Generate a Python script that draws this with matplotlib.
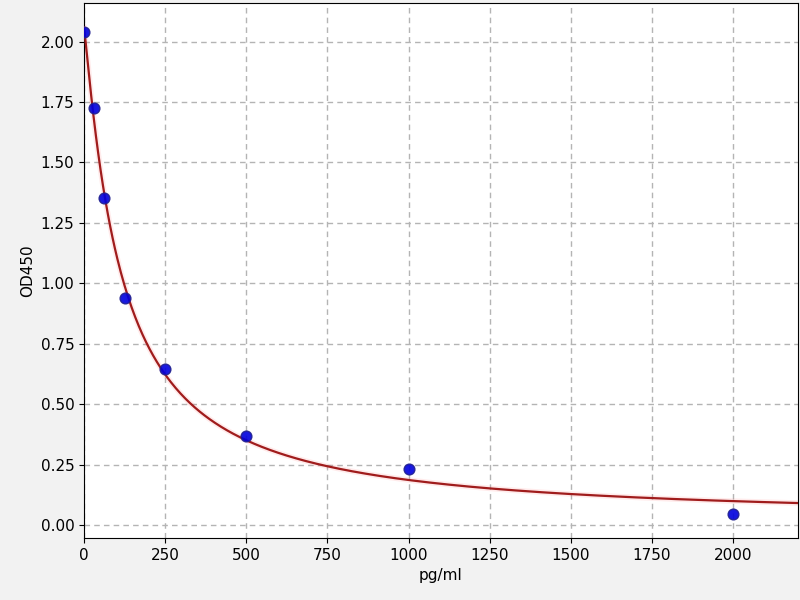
import numpy as np
import matplotlib.pyplot as plt

# standard concentrations (pg/ml) and measured OD450
conc = [0, 31.25, 62.5, 125, 250, 500, 1000, 2000]
od = [2.04, 1.725, 1.352, 0.94, 0.645, 0.368, 0.232, 0.046]
xticks = [0, 250, 500, 750, 1000, 1250, 1500, 1750, 2000]
yticks = [0.00, 0.25, 0.50, 0.75, 1.00, 1.25, 1.50, 1.75, 2.00]

x = np.array(conc, dtype=float)
y = np.array(od)


def fit_4pl(x, y):
    # grid over slope b and midpoint c, linear least squares for top/bottom
    best = None
    for b in np.linspace(0.5, 2.0, 151):
        for c in np.linspace(30, 600, 571):
            g = 1.0 / (1.0 + (x / c) ** b)
            A = np.column_stack([np.ones_like(g), g])
            coef, *_ = np.linalg.lstsq(A, y, rcond=None)
            err = np.sum((A @ coef - y) ** 2)
            if best is None or err < best[0]:
                best = (err, b, c, coef)
    _, b, c, (d, k) = best
    return lambda t: d + k / (1.0 + (t / c) ** b)


curve = fit_4pl(x, y)
xs = np.linspace(0, 2200, 600)

fig = plt.figure(figsize=(8, 6), dpi=100, facecolor='#f2f2f2')
ax = fig.add_axes([0.105, 0.103, 0.8925, 0.892])

ax.plot(xs, curve(xs), color='#ff6060', lw=4, alpha=0.12, zorder=2)
ax.plot(xs, curve(xs), color='#a01c1c', lw=1.6, zorder=3)
ax.scatter(conc, od, s=60, color='#0000dd', edgecolor='#202090', alpha=0.9, zorder=4)

ax.set_xlim(0, 2200)
ax.set_ylim(-0.055, 2.16)
ax.set_xticks(xticks)
ax.set_yticks(yticks)
ax.grid(True, linestyle=(0, (4, 3)), color='#b4b4b4', lw=1)
ax.set_axisbelow(True)
ax.set_xlabel('pg/ml', fontsize=11)
ax.set_ylabel('OD450', fontsize=11)
ax.tick_params(labelsize=11)

fig.savefig('out.png', dpi=100, facecolor=fig.get_facecolor())
